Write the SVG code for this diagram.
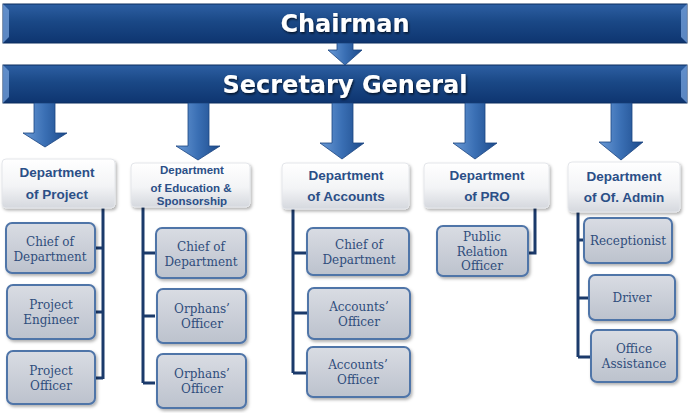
<svg xmlns="http://www.w3.org/2000/svg" width="690" height="413" viewBox="0 0 690 413">
<defs>
  <linearGradient id="barG" x1="0" y1="0" x2="0" y2="1">
    <stop offset="0" stop-color="#2d5fa3"/>
    <stop offset="0.45" stop-color="#1a4886"/>
    <stop offset="1" stop-color="#0e3570"/>
  </linearGradient>
  <linearGradient id="arrG" x1="0" y1="0" x2="1" y2="0">
    <stop offset="0" stop-color="#6a9ad6"/>
    <stop offset="0.5" stop-color="#3a6fb4"/>
    <stop offset="1" stop-color="#1c4a8a"/>
  </linearGradient>
  <linearGradient id="deptG" x1="0" y1="0" x2="0" y2="1">
    <stop offset="0" stop-color="#ffffff"/>
    <stop offset="0.55" stop-color="#f3f4f6"/>
    <stop offset="1" stop-color="#d5d8de"/>
  </linearGradient>
  <linearGradient id="boxG" x1="0" y1="0" x2="0" y2="1">
    <stop offset="0" stop-color="#d9dce3"/>
    <stop offset="1" stop-color="#bcc2cd"/>
  </linearGradient>
  <filter id="sh" x="-10%" y="-10%" width="125%" height="130%">
    <feDropShadow dx="1.5" dy="2" stdDeviation="1.5" flood-color="#000" flood-opacity="0.3"/>
  </filter>
  <filter id="tsh" x="-10%" y="-20%" width="120%" height="150%">
    <feDropShadow dx="1" dy="1.5" stdDeviation="1" flood-color="#000" flood-opacity="0.7"/>
  </filter>
</defs>
<style>
  .bar { fill: url(#barG); stroke: #0b2c5e; stroke-width: 1; }
  .bev { fill: #6f9bd6; opacity: 0.8; }
  .title { font-family: "DejaVu Sans", Verdana, sans-serif; font-weight: bold; font-size: 24px; fill: #ffffff; text-anchor: middle; }
  .arr { fill: url(#arrG); stroke: #1a4480; stroke-width: 0.8; }
  .dept { fill: url(#deptG); stroke: #e4e6ea; stroke-width: 1; }
  .dt { font-family: "Liberation Sans", Arial, sans-serif; font-weight: bold; font-size: 13.5px; fill: #2b4f87; text-anchor: middle; }
  .dts { font-size: 11.5px; }
  .box { fill: url(#boxG); stroke: #4f74a8; stroke-width: 2; }
  .bt { font-family: "DejaVu Serif", "Liberation Serif", serif; font-size: 12px; fill: #2f4d7c; text-anchor: middle; }
  .ln { fill: none; stroke: #1b3a6b; stroke-width: 3; }
</style>

<g id="chairman">
  <rect class="bar" x="3" y="4" width="684" height="39"/>
  <polygon class="bev" points="3,4 9,10 9,37 3,43"/>
  <polygon class="bev" points="687,4 681,10 681,37 687,43"/>
  <text class="title" x="345" y="32" filter="url(#tsh)">Chairman</text>
</g>

<g id="secretary-general">
  <rect class="bar" x="3" y="65" width="684" height="38"/>
  <polygon class="bev" points="3,65 9,71 9,97 3,103"/>
  <polygon class="bev" points="687,65 681,71 681,97 687,103"/>
  <text class="title" x="345" y="93" filter="url(#tsh)">Secretary General</text>
</g>

<g id="connectors">
  <polygon class="arr" points="337,43 353,43 353,50 362,50 345,65 328,50 337,50"/>
  <polygon class="arr" points="34,103 55,103 55,133 67,133 45,147 23,133 34,133"/>
  <polygon class="arr" points="188,103 209,103 209,146 220,146 198,160 176,146 188,146"/>
  <polygon class="arr" points="332,103 353,103 353,143 364,143 342,159 320,143 332,143"/>
  <polygon class="arr" points="465,103 485,103 485,143 497,143 475,159 453,143 465,143"/>
  <polygon class="arr" points="611,103 632,103 632,142 643,142 621,160 599,142 611,142"/>

  <path class="ln" d="M103,207 V379 M95,248 H103 M95,312 H103 M95,378 H103"/>
  <path class="ln" d="M143,207 V383 M143,253 H155 M143,316 H155 M143,383 H155"/>
  <path class="ln" d="M293,208 V373 M293,253 H307 M293,313 H307 M293,373 H307"/>
  <path class="ln" d="M535,208 V253 H528"/>
  <path class="ln" d="M578,212 V357 M578,240 H584 M578,298 H589 M578,357 H591"/>
</g>

<g id="dept-project">
  <rect class="dept" x="2" y="159" width="113" height="49" rx="4" filter="url(#sh)"/>
  <text class="dt" x="57" y="177">Department</text>
  <text class="dt" x="57" y="199">of Project</text>
</g>
<g id="dept-education">
  <rect class="dept" x="131" y="163" width="119" height="44" rx="4" filter="url(#sh)"/>
  <text class="dt dts" x="192" y="174">Department</text>
  <text class="dt dts" x="191" y="192">of Education &amp;</text>
  <text class="dt dts" x="192" y="205">Sponsorship</text>
</g>
<g id="dept-accounts">
  <rect class="dept" x="282" y="163" width="127" height="46" rx="4" filter="url(#sh)"/>
  <text class="dt" x="346" y="180">Department</text>
  <text class="dt" x="346" y="201">of Accounts</text>
</g>
<g id="dept-pro">
  <rect class="dept" x="424" y="163" width="125" height="45" rx="4" filter="url(#sh)"/>
  <text class="dt" x="487" y="180">Department</text>
  <text class="dt" x="487" y="201">of PRO</text>
</g>
<g id="dept-admin">
  <rect class="dept" x="568" y="162" width="112" height="50" rx="4" filter="url(#sh)"/>
  <text class="dt" x="624" y="181">Department</text>
  <text class="dt" x="624" y="202">of Of. Admin</text>
</g>

<g id="project-chief">
  <rect class="box" x="6" y="223" width="89" height="50" rx="6" filter="url(#sh)"/>
  <text class="bt" x="50" y="246">Chief of</text>
  <text class="bt" x="50" y="261">Department</text>
</g>
<g id="project-engineer">
  <rect class="box" x="7" y="285" width="88" height="54" rx="6" filter="url(#sh)"/>
  <text class="bt" x="51" y="309">Project</text>
  <text class="bt" x="51" y="324">Engineer</text>
</g>
<g id="project-officer">
  <rect class="box" x="7" y="351" width="88" height="53" rx="6" filter="url(#sh)"/>
  <text class="bt" x="51" y="375">Project</text>
  <text class="bt" x="51" y="390">Officer</text>
</g>

<g id="education-chief">
  <rect class="box" x="156" y="228" width="90" height="50" rx="6" filter="url(#sh)"/>
  <text class="bt" x="201" y="251">Chief of</text>
  <text class="bt" x="201" y="266">Department</text>
</g>
<g id="education-orphans-1">
  <rect class="box" x="157" y="289" width="89" height="54" rx="6" filter="url(#sh)"/>
  <text class="bt" x="202" y="313">Orphans’</text>
  <text class="bt" x="202" y="328">Officer</text>
</g>
<g id="education-orphans-2">
  <rect class="box" x="157" y="354" width="89" height="54" rx="6" filter="url(#sh)"/>
  <text class="bt" x="202" y="378">Orphans’</text>
  <text class="bt" x="202" y="393">Officer</text>
</g>

<g id="accounts-chief">
  <rect class="box" x="307" y="228" width="102" height="47" rx="6" filter="url(#sh)"/>
  <text class="bt" x="359" y="249">Chief of</text>
  <text class="bt" x="359" y="264">Department</text>
</g>
<g id="accounts-officer-1">
  <rect class="box" x="308" y="288" width="102" height="51" rx="6" filter="url(#sh)"/>
  <text class="bt" x="359" y="311">Accounts’</text>
  <text class="bt" x="359" y="326">Officer</text>
</g>
<g id="accounts-officer-2">
  <rect class="box" x="307" y="347" width="103" height="50" rx="6" filter="url(#sh)"/>
  <text class="bt" x="358" y="369">Accounts’</text>
  <text class="bt" x="358" y="384">Officer</text>
</g>

<g id="pro-officer">
  <rect class="box" x="437" y="226" width="91" height="50" rx="6" filter="url(#sh)"/>
  <text class="bt" x="482" y="241">Public</text>
  <text class="bt" x="482" y="255.5">Relation</text>
  <text class="bt" x="482" y="270">Officer</text>
</g>

<g id="admin-receptionist">
  <rect class="box" x="584" y="218" width="88" height="45" rx="6" filter="url(#sh)"/>
  <text class="bt" x="628" y="245">Receptionist</text>
</g>
<g id="admin-driver">
  <rect class="box" x="589" y="275" width="86" height="45" rx="6" filter="url(#sh)"/>
  <text class="bt" x="632" y="302">Driver</text>
</g>
<g id="admin-office-assistance">
  <rect class="box" x="591" y="330" width="86" height="52" rx="6" filter="url(#sh)"/>
  <text class="bt" x="634" y="353">Office</text>
  <text class="bt" x="634" y="368">Assistance</text>
</g>
</svg>
